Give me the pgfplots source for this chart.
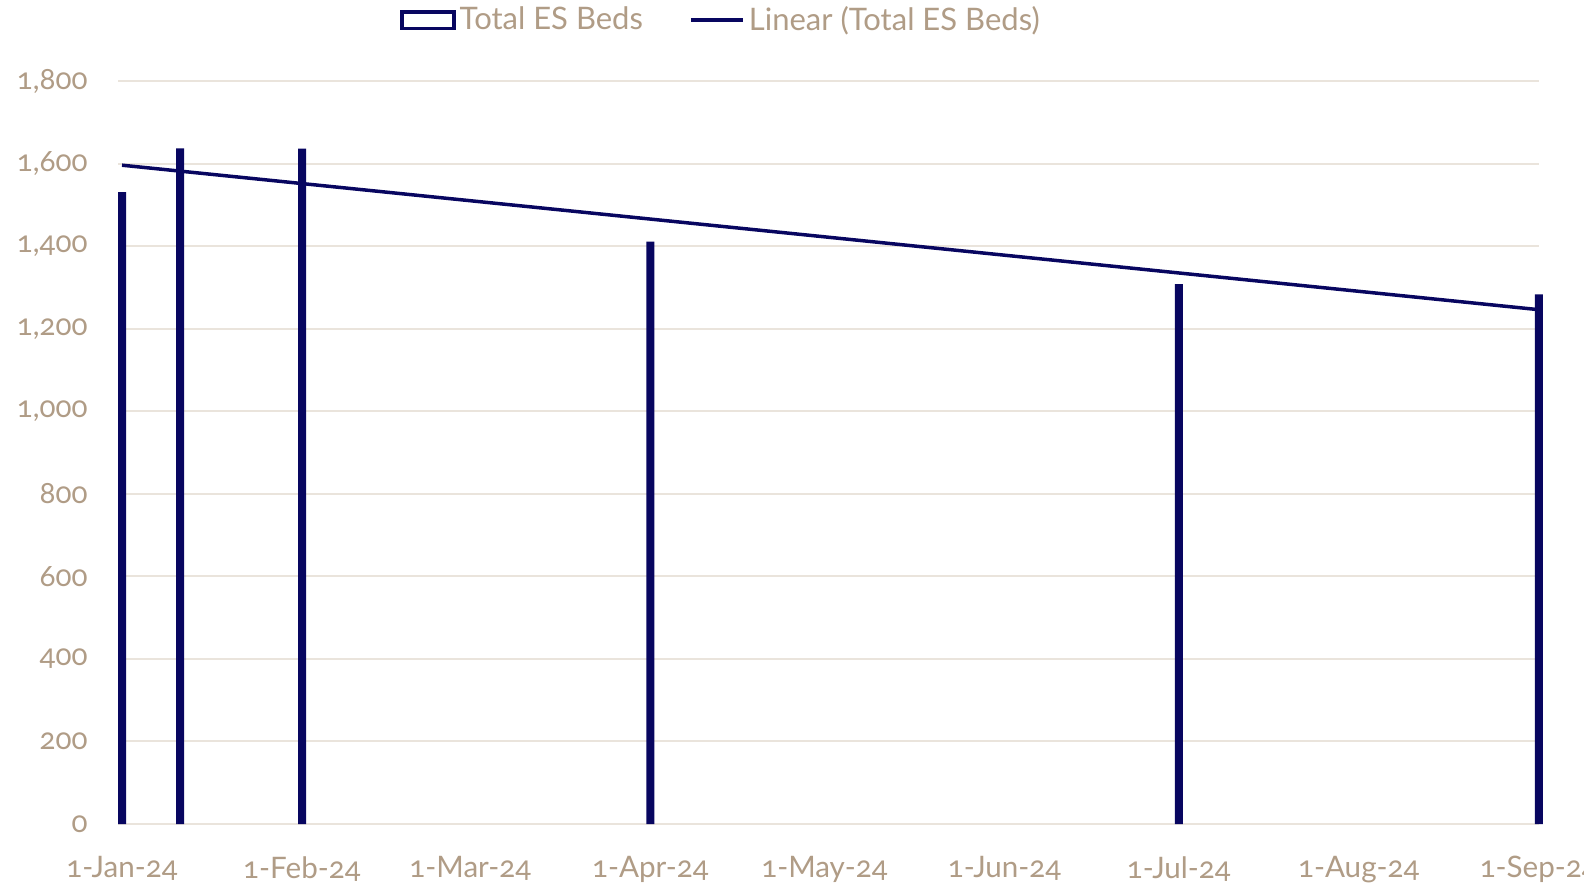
\documentclass[border=0pt]{standalone}
\usepackage{fontspec}
\setmainfont{Lato}[Numbers=OldStyle]
\usepackage{pgfplots}
\pgfplotsset{compat=1.18}
\definecolor{navy}{RGB}{8,6,96}
\definecolor{tanc}{RGB}{176,156,134}
\definecolor{gridc}{RGB}{234,228,220}
\begin{document}
\begin{tikzpicture}
\useasboundingbox (0,0) rectangle (792pt,442pt);
\clip (0,0) rectangle (792pt,442pt);
\begin{axis}[
  at={(59pt,30pt)}, anchor=south west, scale only axis,
  width=710.4pt, height=371.5pt,
  xmin=-0.69, xmax=244, ymin=0, ymax=1800,
  clip=false,
  ytick={0,200,...,1800},
  xtick={0,31,60,91,121,152,182,213,244},
  xticklabels={1-Jan-24,1-Feb-24,1-Mar-24,1-Apr-24,1-May-24,1-Jun-24,1-Jul-24,1-Aug-24,1-Sep-24},
  axis line style={draw=none},
  major tick length=0pt,
  ymajorgrids,
  grid style={gridc, line width=1pt},
  /pgf/number format/assume math mode=true,
  /pgf/number format/1000 sep={,},
  tick label style={font=\fontsize{14.8}{18}\selectfont, text=tanc, inner sep=0pt},
  yticklabel style={anchor=east, xshift=-15pt},
  xticklabel style={anchor=north, yshift=-16pt},
  legend style={at={(axis description cs:0.425,1.082)}, anchor=center, draw=none, fill=none,
    font=\fontsize{15.5}{19}\selectfont, text=tanc,
    /tikz/every even column/.append style={column sep=21pt}},
  legend columns=2,
]
\addplot[ybar, bar width=4pt, fill=navy, draw=none,
  legend image code/.code={\draw[navy, line width=1.75pt, fill=white] (0.9pt,-4.1pt) rectangle (27pt,4.1pt);}]
  coordinates {(0,1531) (10,1637) (31,1636) (91,1411) (182,1308) (244,1283)};
\addlegendentry{Total ES Beds}
\addplot[navy, line width=1.75pt, mark=none,
  legend image code/.code={\draw[navy, line width=2pt] (0pt,0pt) -- (26pt,0pt);}]
  coordinates {(0,1596) (244,1246)};
\addlegendentry{Linear (Total ES Beds)}
\end{axis}
\end{tikzpicture}
\end{document}
